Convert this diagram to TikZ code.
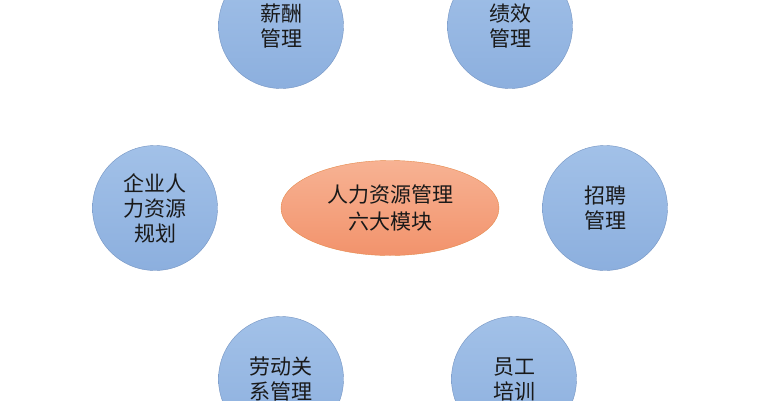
\documentclass[tikz,border=0pt]{standalone}
\usepackage{fontspec}
\setmainfont{Noto Sans CJK SC}
\usetikzlibrary{shapes.geometric}
\definecolor{moduletop}{HTML}{A2C1E8}
\definecolor{modulebot}{HTML}{8CAFDE}
\definecolor{moduleline}{HTML}{7494C2}
\definecolor{coretop}{HTML}{F7B293}
\definecolor{corebot}{HTML}{F2936C}
\definecolor{coreline}{HTML}{E68A4C}

\begin{document}
\begin{tikzpicture}[x=1pt, y=-1pt,
  module/.style={circle, draw=moduleline, top color=moduletop, bottom color=modulebot,
    minimum size=125pt, inner sep=0pt, align=center, text=black!90,
    font=\fontsize{21}{25}\selectfont},
  core/.style={ellipse, draw=coreline, top color=coretop, bottom color=corebot,
    minimum width=218pt, minimum height=95pt, inner sep=0pt, align=center, text=black!90,
    font=\fontsize{21}{27}\selectfont}]
\clip (0,0) rectangle (780,400);
\fill[white] (0,0) rectangle (780,400);
\coordinate (C) at (390,208);
\node[core] (hub) at (C) {人力资源管理\\六大模块};
\node[module] (pay) at (281,26) {薪酬\\管理};
\node[module] (perf) at (510,26) {绩效\\管理};
\node[module] (plan) at (155,208) {企业人\\力资源\\规划};
\node[module] (hire) at (605,208) {招聘\\管理};
\node[module] (labor) at (281,379) {劳动关\\系管理};
\node[module] (train) at (514,379) {员工\\培训};
\end{tikzpicture}
\end{document}
